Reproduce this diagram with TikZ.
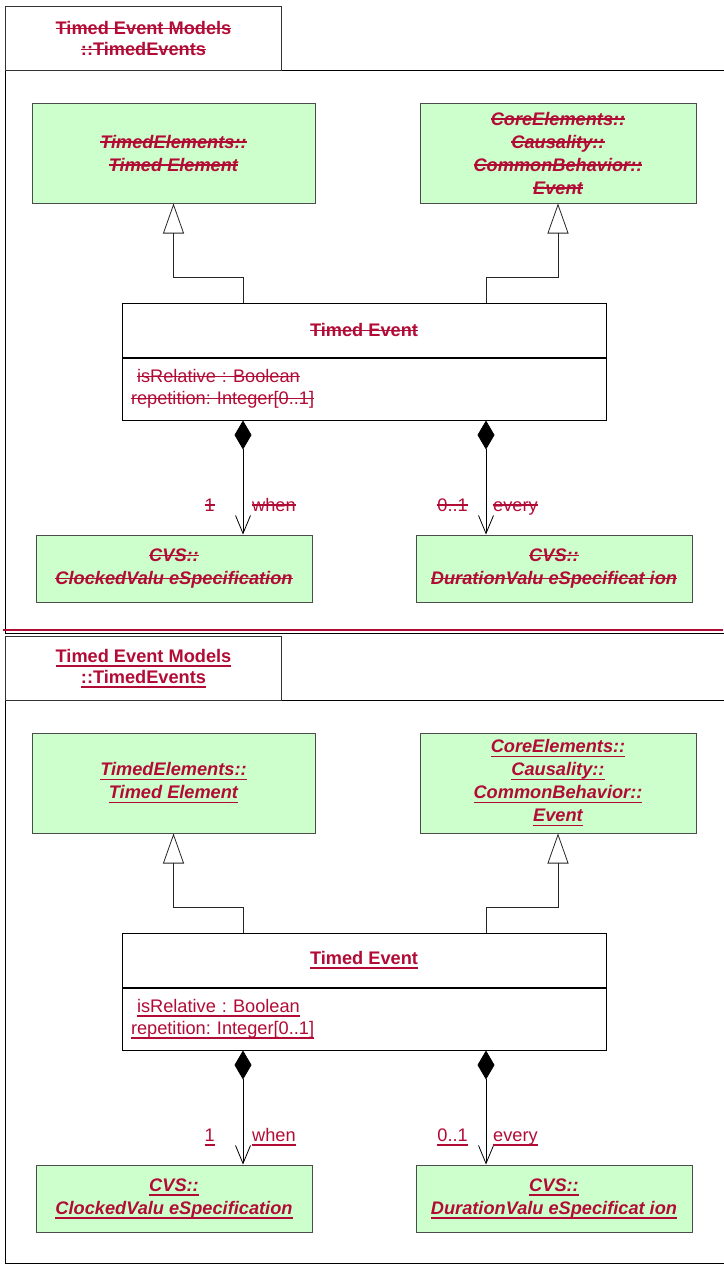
\documentclass[tikz,border=0pt]{standalone}
\usepackage{fontspec}
\setmainfont{Liberation Sans}
\usepackage{xcolor}
\usetikzlibrary{arrows.meta, positioning, calc}
\definecolor{umlred}{HTML}{B20C36}
\definecolor{umlgreen}{HTML}{CCFFCC}
\frenchspacing
\newsavebox\decobox
\newcommand\strk[1]{\sbox\decobox{#1}\usebox\decobox\llap{\rule[0.3em]{\wd\decobox}{1.2pt}}}
\newcommand\undl[1]{\sbox\decobox{#1}\usebox\decobox\llap{\rule[-0.25em]{\wd\decobox}{1.7pt}}}

\begin{document}
\begin{tikzpicture}[
  x=1pt, y=-1pt,
  every node/.style={text=umlred, inner sep=0pt, font=\fontsize{18.2}{22}\selectfont},
  frame/.style={draw=black, line width=1pt},
  tabbox/.style={draw=black!80, line width=1pt, minimum width=276pt, minimum height=64pt, align=center,
                 font=\fontsize{18.2}{21}\selectfont\bfseries},
  classbox/.style={draw=black!70, line width=1pt, fill=umlgreen, minimum width=276pt, minimum height=100pt,
                   align=center, font=\fontsize{18.2}{23}\selectfont\bfseries\itshape},
  evtitle/.style={draw=black, line width=1pt, fill=white, minimum width=484pt, minimum height=54pt,
                  font=\fontsize{18.2}{22}\selectfont\bfseries},
  evattr/.style={draw=black, line width=1pt, fill=white, text width=466pt, inner xsep=9pt,
                 minimum height=62pt, align=left},
  mult/.style={font=\fontsize{18.2}{22}\selectfont},
  inherit/.style={draw=black!85, line width=0.8pt, -{Triangle[open, length=30pt, width=21pt]}},
  compose/.style={draw=black, line width=0.8pt,
                  {Diamond[length=29pt, width=17pt]}-{Straight Barb[length=18pt, width=15pt]}}
]
  \useasboundingbox (0,0) rectangle (723,1266);

  \foreach \dy/\deco/\p in {0/\strk/t, 630/\undl/b} {
    %% Package frame
    \draw[frame] (5,70+\dy) rectangle (760,633+\dy);
    \node[tabbox, anchor=north west] (tab\p) at (5,6+\dy) {\deco{Timed Event Models}\\\deco{::TimedEvents}};

    %% Parents
    \node[classbox, minimum width=283pt] (tel\p) at (173.5,153+\dy) {\deco{TimedElements::}\\\deco{Timed Element}};
    \node[classbox] (cev\p) at (558,153+\dy)
      {\deco{CoreElements::}\\\deco{Causality::}\\\deco{CommonBehavior::}\\\deco{Event}};

    %% Timed Event
    \node[evtitle] (evt\p) at (364,330+\dy) {\deco{Timed Event}};
    \node[evattr, below=0pt of evt\p] (att\p)
      {\hspace*{6pt}\deco{isRelative : Boolean}\\\deco{repetition: Integer[0..1]}};

    %% Parts
    \node[classbox, minimum height=67pt] (clk\p) at (174,568.5+\dy) {\deco{CVS::}\\\deco{ClockedValu eSpecification}};
    \node[classbox, minimum height=67pt] (dur\p) at (554,568.5+\dy) {\deco{CVS::}\\\deco{DurationValu eSpecificat ion}};

    %% Connectors
    \coordinate (ja\p) at (243,\dy);
    \coordinate (jb\p) at (486,\dy);
    \draw[inherit] (evt\p.north -| ja\p) -- ++(0,-25) -| (tel\p.south);
    \draw[inherit] (evt\p.north -| jb\p) -- ++(0,-25) -| (cev\p.south);
    \draw[compose] (att\p.south -| ja\p) -- (clk\p.north -| ja\p);
    \draw[compose] (att\p.south -| jb\p) -- (dur\p.north -| jb\p);

    %% Labels
    \node[mult, anchor=base east] (m1\p) at (215,511+\dy) {\deco{1}};
    \node[mult, anchor=base west] (r1\p) at (252,511+\dy) {\deco{when}};
    \node[mult, anchor=base east] (m2\p) at (468,511+\dy) {\deco{0..1}};
    \node[mult, anchor=base west] (r2\p) at (493,511+\dy) {\deco{every}};
  }

  %% Divider
  \draw[umlred, line width=2.5pt] (3,630) -- (723,630);
\end{tikzpicture}
\end{document}
